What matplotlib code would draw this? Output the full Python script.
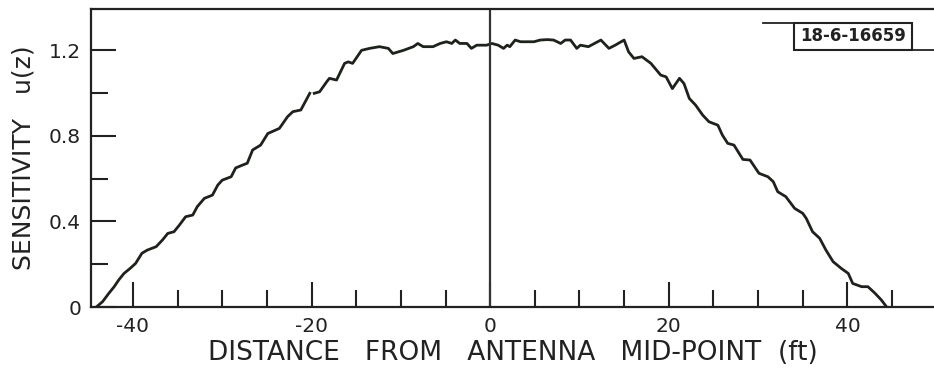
import numpy as np
import matplotlib.pyplot as plt
from matplotlib.patches import Rectangle
from matplotlib.lines import Line2D

# Sensitivity vs distance from antenna mid-point
dist_ft = [-44.1, -43.4, -42.7, -42.1, -41.6, -41.0, -40.3, -39.7, -39.0, -38.4,
           -37.4, -36.7, -36.1, -35.4, -34.8, -34.1, -33.3, -32.8, -32.0, -31.1,
           -30.5, -30.0, -29.0, -28.5, -27.7, -27.2, -26.6, -25.7, -24.9, -23.6,
           -22.7, -22.1, -21.2, -20.2, np.nan, -19.7, -19.1, -18.3, -18.0, -17.2,
           -16.3, -15.9, -15.4, -14.4, -13.5, -12.4, -11.4, -10.9, -9.7, -8.6,
           -8.1, -7.5, -6.4, -5.6, -4.9, -4.3, -3.9, -3.4, -2.6, -2.1,
           -1.5, -0.4, 0.2, 0.9, 1.5, 1.9, 2.2, 2.8, 3.4, 4.1,
           4.9, 5.6, 6.4, 7.1, 7.9, 8.4, 9.0, 9.7, 10.1, 11.0,
           12.4, 13.3, 14.0, 15.0, 15.5, 16.1, 17.0, 18.0, 19.1, 19.7,
           20.4, 21.2, 21.7, 22.3, 23.0, 23.8, 24.5, 25.5, 26.0, 26.6,
           27.3, 28.3, 29.1, 30.1, 31.1, 31.7, 32.2, 33.1, 34.1, 35.0,
           35.4, 36.1, 36.9, 37.6, 38.4, 39.3, 40.1, 40.6, 41.6, 42.3,
           43.1, 43.8, 44.4]
sensitivity = [0.0, 0.025, 0.064, 0.095, 0.126, 0.157, 0.181, 0.204, 0.251, 0.266,
               0.282, 0.313, 0.344, 0.352, 0.383, 0.422, 0.430, 0.469, 0.508, 0.523,
               0.570, 0.593, 0.609, 0.650, 0.664, 0.672, 0.734, 0.757, 0.811, 0.835,
               0.889, 0.913, 0.921, 0.999, np.nan, 0.999, 1.006, 1.053, 1.069, 1.061,
               1.139, 1.146, 1.139, 1.200, 1.209, 1.217, 1.209, 1.185, 1.200, 1.217,
               1.232, 1.217, 1.217, 1.232, 1.240, 1.232, 1.248, 1.232, 1.232, 1.209,
               1.224, 1.224, 1.232, 1.224, 1.209, 1.224, 1.217, 1.248, 1.240, 1.240,
               1.240, 1.248, 1.250, 1.248, 1.232, 1.248, 1.248, 1.209, 1.224, 1.217,
               1.248, 1.209, 1.224, 1.248, 1.193, 1.162, 1.170, 1.139, 1.084, 1.076,
               1.021, 1.069, 1.045, 0.975, 0.944, 0.897, 0.866, 0.850, 0.804, 0.765,
               0.757, 0.690, 0.687, 0.625, 0.609, 0.586, 0.539, 0.516, 0.461, 0.438,
               0.414, 0.352, 0.321, 0.266, 0.212, 0.181, 0.157, 0.110, 0.095, 0.095,
               0.064, 0.033, 0.0]

x_ticks = [-40, -20, 0, 20, 40]
x_ticklabels = ['-40', '-20', '0', '20', '40']
y_ticks = [0, 0.4, 0.8, 1.2]
y_ticklabels = ['0', '0.4', '0.8', '1.2']

ink = '#222222'

fig = plt.figure(figsize=(9.34, 3.76), dpi=100)
ax = fig.add_axes([0.0974, 0.1835, 0.9026, 0.7925])

ax.plot(dist_ft, sensitivity, color='#1e221c', lw=2.0)
ax.axvline(0, color='#333333', lw=1.6)

ax.set_xlim(-44.7, 49.7)
ax.set_ylim(0, 1.393)

ax.set_xticks(x_ticks)
ax.set_xticklabels(x_ticklabels)
ax.set_xticks(np.arange(-40, 50, 5), minor=True)
ax.set_yticks(y_ticks)
ax.set_yticklabels(y_ticklabels)
ax.set_yticks([0.2, 0.6, 1.0], minor=True)

ax.tick_params(which='major', direction='in', length=18, width=1.5, color=ink,
               labelsize=14.5, labelcolor=ink)
ax.tick_params(which='minor', direction='in', length=12, width=1.5, color=ink)
ax.tick_params(axis='x', pad=7)
ax.tick_params(axis='y', pad=7)

for s in ['left', 'bottom', 'top']:
    ax.spines[s].set_linewidth(1.6)
    ax.spines[s].set_color(ink)
ax.spines['right'].set_visible(False)

ax.set_xlabel('DISTANCE   FROM   ANTENNA   MID-POINT  (ft)', fontsize=19, color=ink, labelpad=3)
ax.set_ylabel('SENSITIVITY   u(z)', fontsize=18, color=ink, labelpad=10)

# figure number tag in upper right
fig.add_artist(Rectangle((0.850, 0.867), 0.126, 0.072, transform=fig.transFigure,
                         fill=False, lw=1.5, ec=ink))
fig.text(0.913, 0.903, '18-6-16659', ha='center', va='center', fontsize=12,
         fontweight='bold', color=ink)
fig.add_artist(Line2D([0.817, 0.850], [0.939, 0.939], transform=fig.transFigure,
                      lw=1.3, color=ink))
fig.add_artist(Line2D([0.976, 1.0], [0.867, 0.867], transform=fig.transFigure,
                      lw=1.3, color=ink))

fig.savefig('out.png', dpi=100)
